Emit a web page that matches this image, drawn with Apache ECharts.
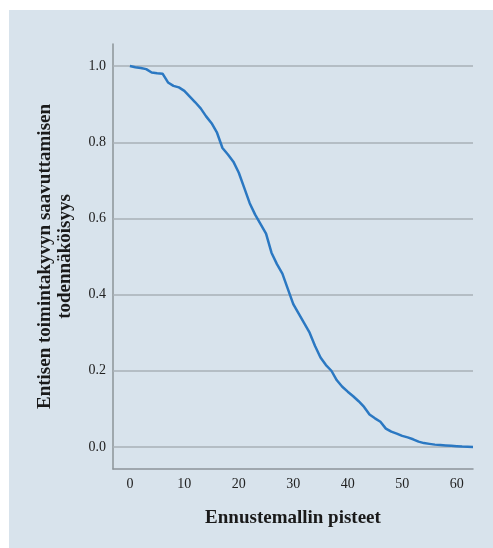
<!DOCTYPE html>
<html>
<head>
<meta charset="utf-8">
<script src="https://cdn.jsdelivr.net/npm/echarts@6/dist/echarts.min.js"></script>
<style>
html,body{margin:0;padding:0;background:#fff;}
#chart{width:493px;height:548px;}
</style>
</head>
<body>
<div id="chart"></div>
<script>
const xTicks = [0, 10, 20, 30, 40, 50, 60];
const yTicks = [0.0, 0.2, 0.4, 0.6, 0.8, 1.0];
const scores = [0,1,2,3,4,5,6,7,8,9,10,11,12,13,14,15,16,17,18,19,20,21,22,23,24,25,26,27,28,29,30,31,32,33,34,35,36,37,38,39,40,41,42,43,44,45,46,47,48,49,50,51,52,53,54,55,56,57,58,59,60,61,62,63];
const probability = [1.000,0.997,0.995,0.992,0.983,0.981,0.980,0.957,0.948,0.944,0.935,0.920,0.905,0.889,0.868,0.850,0.825,0.785,0.768,0.749,0.720,0.680,0.640,0.610,0.585,0.560,0.510,0.480,0.455,0.415,0.375,0.350,0.325,0.300,0.265,0.235,0.215,0.200,0.175,0.158,0.145,0.133,0.120,0.105,0.085,0.075,0.066,0.048,0.040,0.035,0.029,0.025,0.020,0.014,0.010,0.008,0.006,0.005,0.004,0.003,0.002,0.001,0.0005,0.000];
const xTitle = 'Ennustemallin pisteet';
const yTitle = 'Entisen toimintakyvyn saavuttamisen\ntodennäköisyys';

const chart = echarts.init(document.getElementById('chart'), null, {renderer: 'canvas'});
const pts = scores.map((s, i) => [s, probability[i]]);
const serif = '"Liberation Serif", "DejaVu Serif", serif';
chart.setOption({
  animation: false,
  backgroundColor: '#ffffff',
  graphic: [{
    type: 'rect', z: -10, silent: true,
    shape: {x: 9, y: 10, width: 484, height: 538},
    style: {fill: '#d8e3ec'}
  }],
  grid: {left: 113, right: 20, top: 44, bottom: 79, containLabel: false},
  xAxis: {
    type: 'value', min: -3.1, max: 63,
    name: xTitle, nameLocation: 'middle', nameGap: 40,
    nameTextStyle: {fontFamily: serif, fontWeight: 'bold', fontSize: 19, color: '#1a1a1a'},
    axisLine: {show: true, onZero: false, lineStyle: {color: '#8c9499', width: 1.5}},
    axisTick: {show: false},
    splitLine: {show: false},
    axisLabel: {
      fontFamily: serif, fontSize: 14, color: '#222', margin: 8,
      customValues: xTicks,
      formatter: v => String(v)
    }
  },
  yAxis: {
    type: 'value', min: -0.058, max: 1.058,
    name: yTitle, nameLocation: 'middle', nameGap: 38, nameRotate: 90,
    nameTextStyle: {fontFamily: serif, fontWeight: 'bold', fontSize: 19, color: '#1a1a1a', lineHeight: 20, align: 'center'},
    axisLine: {show: true, onZero: false, lineStyle: {color: '#8c9499', width: 1.5}},
    axisTick: {show: false},
    axisLabel: {
      fontFamily: serif, fontSize: 14, color: '#222', margin: 7,
      customValues: yTicks,
      formatter: v => v.toFixed(1)
    },
    splitLine: {show: false}
  },
  series: [
    {
      type: 'line', silent: true, symbol: 'none',
      data: [],
      markLine: {
        silent: true, symbol: 'none', label: {show: false},
        lineStyle: {color: '#a9b1b7', width: 1.5, type: 'solid'},
        data: yTicks.map(v => ({yAxis: v}))
      }
    },
    {
      type: 'line', data: pts, symbol: 'none', smooth: false,
      lineStyle: {color: '#2b78c2', width: 2.5},
      z: 5
    }
  ]
});
</script>
</body>
</html>
